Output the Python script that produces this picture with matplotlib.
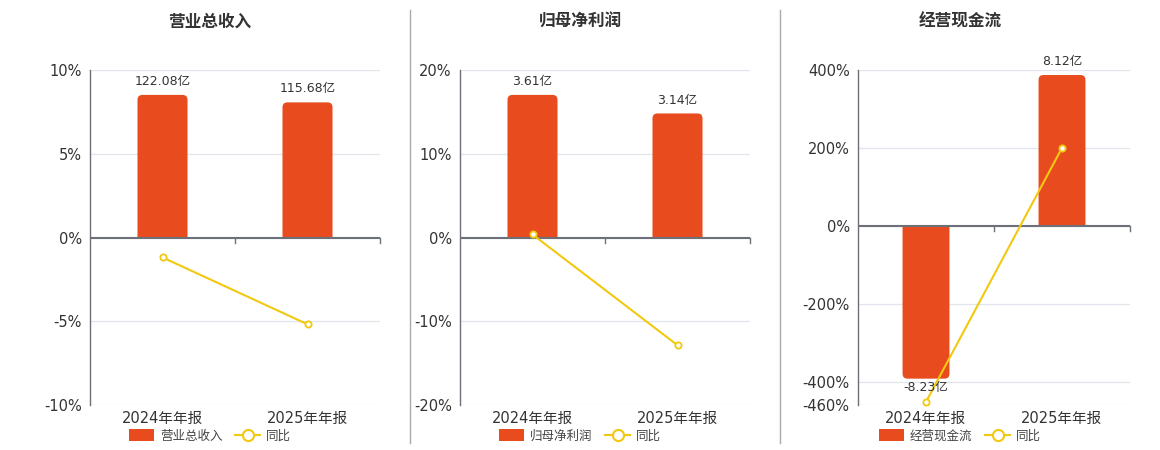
import matplotlib
matplotlib.use("Agg")
import matplotlib.pyplot as plt
from matplotlib.patches import FancyBboxPatch, Rectangle, Patch
from matplotlib.lines import Line2D

plt.rcParams['font.family'] = ['DejaVu Sans', 'Noto Sans CJK SC']

# data
periods = ["2024年年报", "2025年年报"]
titles = ["营业总收入", "归母净利润", "经营现金流"]
bar_values = [[122.08, 115.68], [3.61, 3.14], [-8.23, 8.12]]
bar_labels = [["122.08亿", "115.68亿"], ["3.61亿", "3.14亿"], ["-8.23亿", "8.12亿"]]
yoy_values = [[-1.19, -5.18], [0.36, -12.86], [-452.0, 200.0]]
# hidden bar axis top (value reaching top of percent axis)
bar_axis_top = [143.4, 4.24, 8.39]
pct_limits = [(-10, 10), (-20, 20), (-460, 400)]
pct_ticks = [[-10, -5, 0, 5, 10], [-20, -10, 0, 10, 20], [-460, -400, -200, 0, 200, 400]]

BAR_COLOR = "#E84C1E"
LINE_COLOR = "#F2C811"
GRID_COLOR = "#E1E5EE"
AXIS_COLOR = "#6E7079"
TEXT_COLOR = "#333333"

W, H = 1160, 450
fig = plt.figure(figsize=(W / 100, H / 100), dpi=100)

# axes boxes in pixels: left, right
ax_px = [(90, 380), (460, 750), (858, 1130)]
ax_top, ax_bot = 70, 405
centers = [210, 580, 960]

for k in range(3):
    l, r = ax_px[k]
    ax = fig.add_axes([l / W, (H - ax_bot) / H, (r - l) / W, (ax_bot - ax_top) / H])
    lo, hi = pct_limits[k]
    ax.set_xlim(-0.5, 1.5)
    ax.set_ylim(lo, hi)
    scale = hi / bar_axis_top[k]

    # grid
    ax.set_yticks(pct_ticks[k])
    ax.set_yticklabels([f"{t}%" for t in pct_ticks[k]], family="DejaVu Sans")
    ax.yaxis.grid(True, color=GRID_COLOR, linewidth=0.9, zorder=0)
    ax.set_axisbelow(True)

    xs = list(range(len(periods)))
    heights = [v * scale for v in bar_values[k]]
    bars = ax.bar(xs, heights, width=0.345, color=BAR_COLOR, alpha=0)

    # rounded bars, clipped so the baseline end stays square
    px_x = (r - l) / 2.0
    px_y = (ax_bot - ax_top) / float(hi - lo)
    aspect = px_x / px_y
    rad = 5.0 / px_x
    ext = 12.0 / px_y
    for b in bars:
        x0, w, h = b.get_x(), b.get_width(), b.get_height()
        if h >= 0:
            p = FancyBboxPatch((x0, -ext), w, h + ext,
                               boxstyle=f"round,pad=0,rounding_size={rad}",
                               mutation_aspect=aspect, fc=BAR_COLOR, ec="none", zorder=2)
            clip = Rectangle((x0 - 1, 0), w + 2, h + ext, transform=ax.transData)
        else:
            p = FancyBboxPatch((x0, h), w, -h + ext,
                               boxstyle=f"round,pad=0,rounding_size={rad}",
                               mutation_aspect=aspect, fc=BAR_COLOR, ec="none", zorder=2)
            clip = Rectangle((x0 - 1, h - ext), w + 2, -h + ext, transform=ax.transData)
        ax.add_patch(p)
        p.set_clip_path(clip)

    for x, h, lab in zip(xs, heights, bar_labels[k]):
        off = 5 if h >= 0 else -2
        ax.annotate(lab, (x, h), xytext=(0, off), textcoords="offset points",
                    ha="center", va="bottom" if h >= 0 else "top",
                    fontsize=9, color=TEXT_COLOR, zorder=5)

    # zero line with category boundary ticks
    ax.axhline(0, color=AXIS_COLOR, linewidth=1.5, zorder=3)
    for xb in [0.5, 1.5]:
        ax.plot([xb, xb], [0, -5 / px_y], color=AXIS_COLOR, linewidth=1, zorder=3,
                clip_on=False)

    ax.plot(xs, yoy_values[k], color=LINE_COLOR, linewidth=1.5, marker="o",
            markersize=4.5, markerfacecolor="white", markeredgecolor=LINE_COLOR,
            markeredgewidth=1.3, zorder=4, clip_on=False)

    ax.set_xticks(xs)
    ax.set_xticklabels(periods, fontsize=10.5, color=TEXT_COLOR)
    ax.tick_params(axis="x", length=0, pad=4)
    ax.tick_params(axis="y", length=0, pad=6, labelsize=10.5, labelcolor=TEXT_COLOR)
    for s in ["top", "right", "bottom"]:
        ax.spines[s].set_visible(False)
    ax.spines["left"].set_color(AXIS_COLOR)
    ax.spines["left"].set_linewidth(1)

    fig.text(centers[k] / W, 1 - 22 / H, titles[k], ha="center", va="center",
             fontsize=12, fontweight="bold", color=TEXT_COLOR, family="Noto Sans CJK SC")

    handles = [Patch(facecolor=BAR_COLOR, edgecolor="none"),
               Line2D([0], [0], color=LINE_COLOR, linewidth=1.5, marker="o", markersize=8,
                      markerfacecolor="white", markeredgecolor=LINE_COLOR, markeredgewidth=1.5)]
    ax.legend(handles, [titles[k], "同比"], loc="center", ncol=2, frameon=False,
              bbox_to_anchor=(centers[k] / W, 1 - 436 / H), bbox_transform=fig.transFigure,
              prop={"size": 9, "family": "Noto Sans CJK SC"},
              handlelength=2.0, handleheight=1.1, columnspacing=1.0,
              handletextpad=0.5, labelcolor="#444444")

# panel separators
for xsep in [410, 780]:
    fig.add_artist(Line2D([xsep / W, xsep / W], [1 - 10 / H, 1 - 443 / H],
                          color="#AAAAAA", linewidth=1))

fig.savefig("out.png", dpi=100, facecolor="white")
